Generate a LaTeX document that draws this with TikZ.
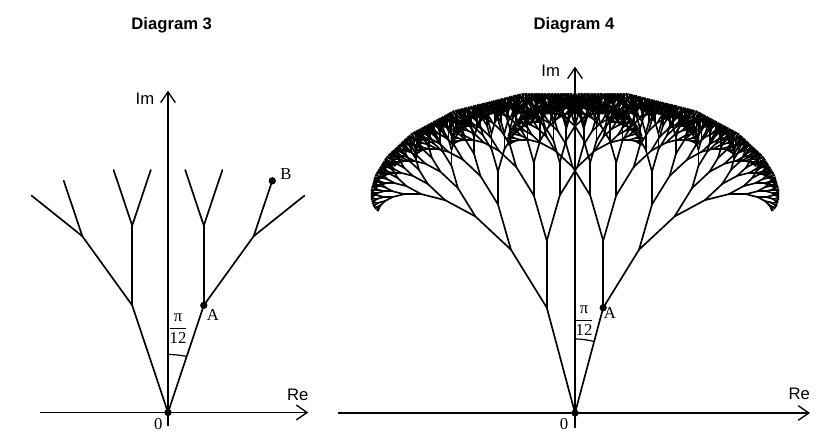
\documentclass[tikz,border=0pt]{standalone}
\usepackage{fontspec}
\setmainfont{Liberation Serif}
\setsansfont{Liberation Sans}
\usepackage{amsmath}
\usepackage{tikz}
\usetikzlibrary{positioning}
\usetikzlibrary{math}
\usetikzlibrary{calc}
\usetikzlibrary{arrows, arrows.meta}

\tikzset{
  axis/.style={line width=1pt, -{Straight Barb[length=8pt, width=11pt]}},
  branch/.style={line width=1.25pt, line cap=round},
  fatdot/.style={circle, fill, inner sep=0pt, minimum size=5.5pt},
  title/.style={font=\sffamily\bfseries\fontsize{12.5}{15}\selectfont},
  axlabel/.style={font=\sffamily\fontsize{12.5}{15}\selectfont},
  ptlabel/.style={font=\fontsize{12.5}{14}\selectfont},
}

% #1 depth, #2 length, #3 angle; children turn by +-15 degrees
\newcommand{\treeratio}{0.72}
\newcommand{\fractalbranch}[3]{%
  \ifnum#1>0
  \begin{scope}
    \pgfmathsetmacro\seglen{#2}
    \pgfmathsetmacro\segang{#3}
    \draw[branch] (0,0) -- (\segang:\seglen);
    \begin{scope}[shift={(\segang:\seglen)}]
      \pgfmathsetmacro\sublen{\seglen*\treeratio}
      \pgfmathsetmacro\angl{\segang+15}
      \pgfmathsetmacro\angr{\segang-15}
      \pgfmathtruncatemacro\subdepth{#1-1}
      \fractalbranch{\subdepth}{\sublen}{\angl}
      \fractalbranch{\subdepth}{\sublen}{\angr}
    \end{scope}
  \end{scope}
  \fi}

\begin{document}
\begin{tikzpicture}[x=0.75pt, y=0.75pt]
  \useasboundingbox (0,0) rectangle (840,444);

  % Diagram 3
  \node[title] (title3) at (171.7,419) {Diagram 3};
  \coordinate (O3) at (168,31.5);
  \coordinate (A3) at (203.8,138.7);
  \coordinate (A3l) at (132.2,138.7);
  \coordinate (B3) at (272.3,263.2);
  \coordinate (re3start) at (40,31.5);
  \coordinate (re3end) at (308.3,31.5);
  \coordinate (im3start) at (168,18);
  \coordinate (im3end) at (168,353.3);
  \draw[axis] (re3start) -- (re3end);  % Re-axis
  \draw[axis] (im3start) -- (im3end);  % Im-axis
  \node[axlabel] (re3) at (297.7,49) {Re};
  \node[axlabel] (im3) at (145,345) {Im};
  \draw[branch] (O3) -- (A3);
  \draw[branch] (O3) -- (A3l);
  \begin{scope}[shift={(A3)}, xscale=1.25]
    \fractalbranch{2}{79.8}{90}
    \fractalbranch{2}{79.8}{60}
  \end{scope}
  \begin{scope}[shift={(A3l)}, xscale=1.25]
    \fractalbranch{2}{79.8}{90}
    \fractalbranch{2}{79.8}{120}
  \end{scope}
  \begin{scope}[shift={(O3)}, xscale=1.25]
    \draw[line width=0.9pt] (90:58) arc[start angle=90, end angle=75, radius=58];
  \end{scope}
  \node[fatdot] (dotO3) at (O3) {};
  \node[fatdot] (dotA3) at (A3) {};
  \node[fatdot] (dotB3) at (B3) {};
  \node[ptlabel] (labA3) at (213,129.5) {A};
  \node[ptlabel] (labB3) at (286,269.5) {B};
  \node[ptlabel] (zero3) at (158.3,19.5) {0};
  \node[ptlabel] (ang3) at (178,115) {$\dfrac{\mbox{π}}{\mbox{12}}$};

  % Diagram 4
  \node[title] (title4) at (574,419) {Diagram 4};
  \coordinate (O4) at (575,31);
  \coordinate (A4) at (603.2,136.3);
  \coordinate (A4l) at (546.8,136.3);
  \coordinate (re4start) at (338.3,31);
  \coordinate (re4end) at (810,31);
  \coordinate (im4start) at (575,16);
  \coordinate (im4end) at (575,377.3);
  \draw[branch] (O4) -- (A4);
  \draw[branch] (O4) -- (A4l);
  \begin{scope}[shift={(A4)}, xscale=1.07]
    \renewcommand{\treeratio}{0.7}
    \fractalbranch{10}{67}{90}
    \fractalbranch{10}{67}{60}
  \end{scope}
  \begin{scope}[shift={(A4l)}, xscale=1.07]
    \renewcommand{\treeratio}{0.7}
    \fractalbranch{10}{67}{90}
    \fractalbranch{10}{67}{120}
  \end{scope}
  \draw[axis] (re4start) -- (re4end);  % Re-axis
  \draw[axis] (im4start) -- (im4end);  % Im-axis
  \node[axlabel] (re4) at (799.3,50) {Re};
  \node[axlabel] (im4) at (550.7,373) {Im};
  \draw[line width=0.9pt] ([shift={(90:74)}]O4) arc[start angle=90, end angle=75, radius=74];
  \node[fatdot] (dotO4) at (O4) {};
  \node[fatdot] (dotA4) at (A4) {};
  \node[ptlabel] (labA4) at (610,131) {A};
  \node[ptlabel] (zero4) at (564,19.5) {0};
  \node[ptlabel] (ang4) at (584,123) {$\dfrac{\mbox{π}}{\mbox{12}}$};
\end{tikzpicture}
\end{document}
